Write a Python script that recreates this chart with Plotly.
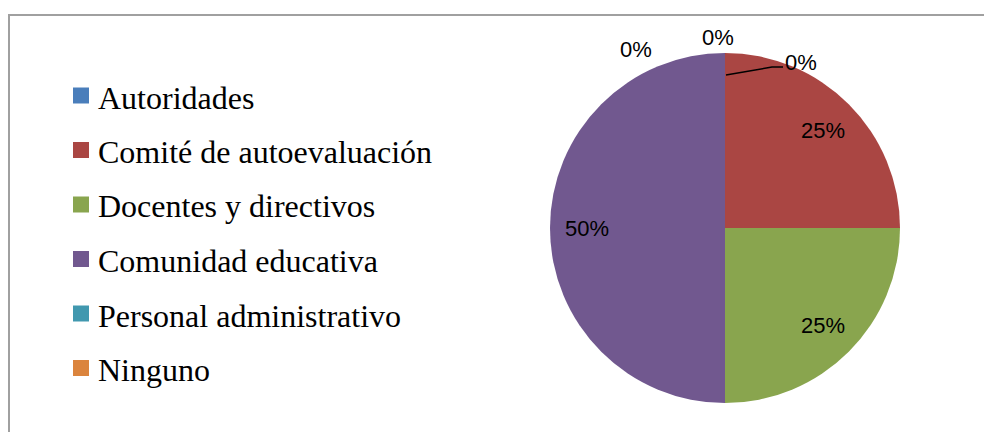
import math
import plotly.graph_objects as go

categories = ["Autoridades", "Comité de autoevaluación", "Docentes y directivos",
              "Comunidad educativa", "Personal administrativo", "Ninguno"]
values = [0, 25, 25, 50, 0, 0]
colors = ["#4A7EBB", "#AA4643", "#89A54E", "#71588F", "#4198AF", "#DB843D"]

W, H = 992, 432
OFF = 8  # page body margin
cx, cy, R = 725, 228, 175  # pie centre and radius in screen pixels


def px(x):
    return (x - OFF) / W


def py(y):
    return 1 - (y - OFF) / H


total = sum(values)

fig = go.Figure(go.Pie(
    labels=categories, values=values, sort=False, direction="clockwise", rotation=0,
    marker=dict(colors=colors, line=dict(width=0)),
    textinfo="none", hoverinfo="label+percent", showlegend=False,
    domain=dict(x=[px(cx - R), px(cx + R)], y=[py(cy + R), py(cy - R)]),
))

annotations = []
shapes = []
label_font = dict(family="Liberation Sans, Arial, sans-serif", size=22, color="#000000")

# data labels
zero_offsets = [(76, -166), (-7, -191), (-89, -178)]  # placement of stacked 0% labels
zi = 0
cum = 0
for v in values:
    pct = f"{round(v / total * 100)}%"
    if v > 0:
        mid = (cum + v / 2) / total * 2 * math.pi
        rr = 0.79 * R
        x = cx + rr * math.sin(mid)
        y = cy - rr * math.cos(mid)
    else:
        dx, dy = zero_offsets[zi]
        zi += 1
        x, y = cx + dx, cy + dy
    annotations.append(dict(x=px(x), y=py(y), xref="paper", yref="paper", text=pct,
                            showarrow=False, font=label_font, xanchor="center", yanchor="middle"))
    cum += v

# leader line for first zero label
shapes.append(dict(type="path", xref="paper", yref="paper",
                   path=f"M {px(726)},{py(75)} L {px(772)},{py(67)} L {px(783)},{py(67)}",
                   line=dict(color="#000000", width=1.5)))

# legend (manual)
leg_x0 = 73
leg_y0 = 95.5
leg_dy = 54.5
for i, (c, col) in enumerate(zip(categories, colors)):
    yc = leg_y0 + i * leg_dy
    shapes.append(dict(type="rect", xref="paper", yref="paper",
                       x0=px(leg_x0), x1=px(leg_x0 + 16), y0=py(yc + 8), y1=py(yc - 8),
                       fillcolor=col, line=dict(width=0)))
    annotations.append(dict(x=px(leg_x0 + 23), y=py(yc + 2), xref="paper", yref="paper",
                            text=c, showarrow=False, xanchor="left", yanchor="middle",
                            font=dict(family="Liberation Serif, Times New Roman, serif",
                                      size=32, color="#000000")))

# chart border
shapes.append(dict(type="rect", xref="paper", yref="paper",
                   x0=px(9), x1=px(W + 20), y0=py(H + 20), y1=py(15),
                   line=dict(color="#A0A0A0", width=2), fillcolor="rgba(0,0,0,0)"))

fig.update_layout(
    width=W, height=H, margin=dict(l=0, r=0, t=0, b=0),
    paper_bgcolor="#FFFFFF", plot_bgcolor="#FFFFFF",
    annotations=annotations, shapes=shapes, showlegend=False,
)

fig.write_html("out.html")
